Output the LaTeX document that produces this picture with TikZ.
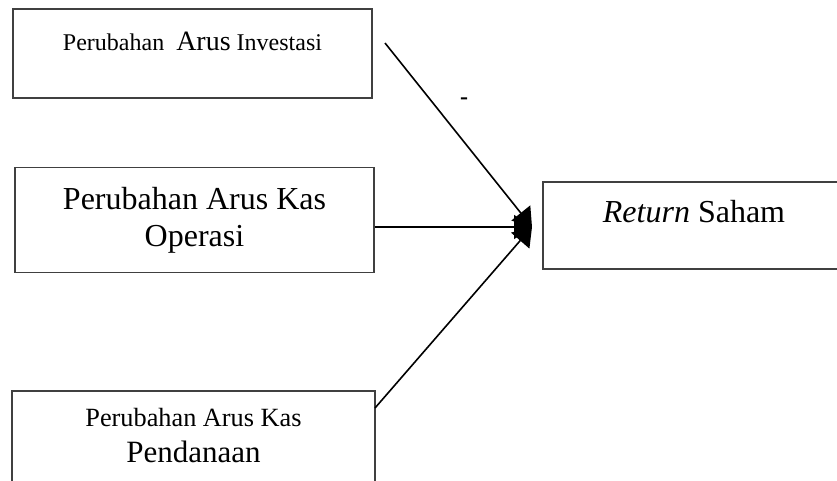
\documentclass[tikz,border=0pt]{standalone}
\usepackage{fontspec}
\setmainfont{Liberation Serif}
\usetikzlibrary{arrows.meta}
\begin{document}
\begin{tikzpicture}[x=1pt,y=-1pt,
  box/.style={draw=black!75, line width=1.1pt, inner sep=0pt, fill=none},
  lbl/.style={anchor=base, inner sep=0pt, align=center},
  conn/.style={line width=1.6pt, -{Triangle[length=18pt,width=24pt]}}]
\useasboundingbox (0,0) rectangle (837,480);
% boxes
\node[box, minimum width=359pt, minimum height=89pt] (b1) at (192.5,53.5) {};
\node[box, minimum width=359pt, minimum height=105pt] (b2) at (194.5,220) {};
\node[box, minimum width=363pt, minimum height=110pt] (b3) at (193.5,446) {};
\node[box, minimum width=303pt, minimum height=87pt] (b4) at (694.5,225.5) {};
% texts
\node[lbl] (t1) at (192.5,50.7) {\fontsize{24}{28}\selectfont Perubahan\ \ {\fontsize{28}{30}\selectfont Arus} Investasi};
\node[lbl] (t2a) at (194.5,209) {\fontsize{32}{36}\selectfont Perubahan Arus Kas};
\node[lbl] (t2b) at (194.5,246) {\fontsize{32}{36}\selectfont Operasi};
\node[lbl] (t3a) at (193.5,426) {\fontsize{26.3}{30}\selectfont Perubahan Arus Kas};
\node[lbl] (t3b) at (193.5,462) {\fontsize{31}{34}\selectfont Pendanaan};
\node[lbl] (t4) at (694,222) {\fontsize{32}{36}\selectfont\textit{Return} Saham};
\node[lbl] (minus) at (464,104) {\fontsize{24}{26}\selectfont\bfseries -};
% connectors
\coordinate (tip) at (532,227);
\coordinate (s1) at (385,43);
\coordinate (s3) at (375,408);
\draw[conn] (s1) -- (tip);
\draw[conn] (b2.east |- tip) -- (tip);
\draw[conn] (s3) -- (tip);
\end{tikzpicture}
\end{document}
